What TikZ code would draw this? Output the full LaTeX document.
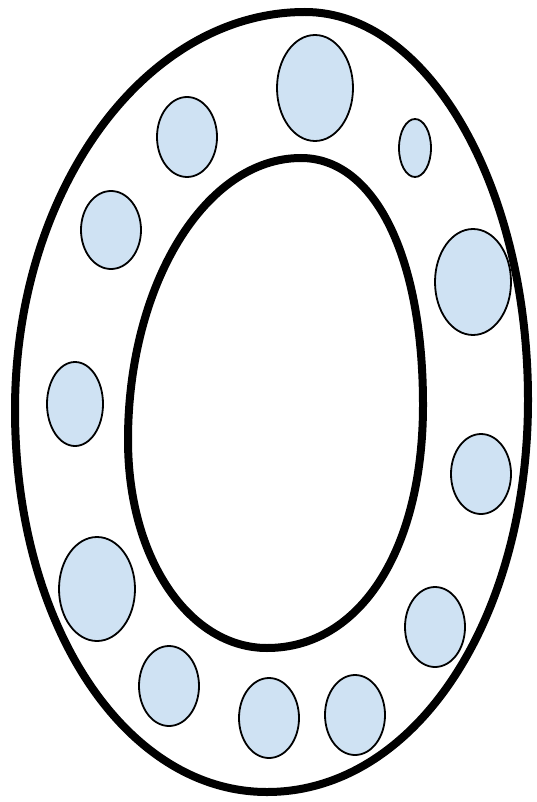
\documentclass[tikz,border=0pt]{standalone}
\usepackage{tikz}
\definecolor{ballblue}{HTML}{CFE2F3}
\tikzset{
  ring/.style={line width=8pt},
  ball/.style={draw=black,line width=1.8pt,fill=ballblue}
}
\begin{document}
\begin{tikzpicture}[x=1pt,y=-1pt]
  \useasboundingbox (0,0) rectangle (537,802);
  \draw[ring] (305,12) .. controls (428,12) and (528,186) .. (528,400)
    .. controls (528,620) and (415,792) .. (267,792)
    .. controls (126,792) and (15,626) .. (15,410)
    .. controls (15,190) and (145,12) .. (305,12) -- cycle;
  \draw[ring] (301,158) .. controls (374,158) and (423,255) .. (423,405)
    .. controls (423,550) and (360,648) .. (267,648)
    .. controls (190,648) and (128,560) .. (128,440)
    .. controls (128,285) and (205,158) .. (301,158) -- cycle;
  \foreach \x/\y/\rx/\ry in {
    315/88/38/53, 187/137/30/40, 415/148/16/29, 111/230/30/39,
    473/282/38/53, 75/404/28/42, 481/474/30/40, 97/589/38/52,
    435/627/30/40, 169/686/30/40, 269/718/30/40, 355/715/30/40}
    \draw[ball] (\x,\y) ellipse ({\rx} and {\ry});
\end{tikzpicture}
\end{document}
